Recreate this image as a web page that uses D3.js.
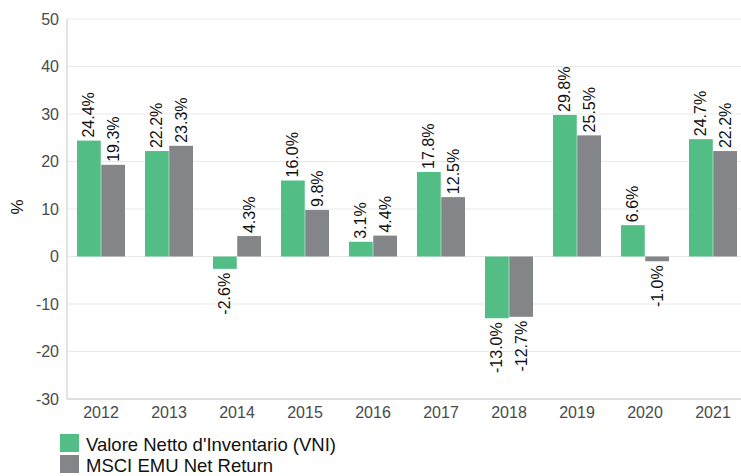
<!DOCTYPE html>
<html>
<head>
<meta charset="utf-8">
<script src="https://cdn.jsdelivr.net/npm/d3@7"></script>
<style>
  body { margin: 0; background: #fff; }
  svg { font-family: "Liberation Sans", Arial, sans-serif; display: block; }
</style>
</head>
<body>
<svg id="chart" width="741" height="476"></svg>
<script>
// data
const years = ["2012", "2013", "2014", "2015", "2016", "2017", "2018", "2019", "2020", "2021"];
const fund = [24.4, 22.2, -2.6, 16.0, 3.1, 17.8, -13.0, 29.8, 6.6, 24.7];
const bench = [19.3, 23.3, 4.3, 9.8, 4.4, 12.5, -12.7, 25.5, -1.0, 22.2];
const seriesNames = ["Valore Netto d'Inventario (VNI)", "MSCI EMU Net Return"];
const colors = ["#52be85", "#848589"];
const yTicks = [-30, -20, -10, 0, 10, 20, 30, 40, 50];

const svg = d3.select("#chart");
const plotL = 67, plotR = 747, plotT = 19, plotB = 399;

const y = d3.scaleLinear().domain([-30, 50]).range([plotB, plotT]);
const x = d3.scaleBand().domain(years).range([plotL, plotR]);
const sub = d3.scaleBand().domain([0, 1]).range([10, x.bandwidth() - 10]).paddingInner(0.02);

// gridlines
svg.append("g")
  .selectAll("line")
  .data(yTicks)
  .enter().append("line")
  .attr("x1", plotL).attr("x2", 741)
  .attr("y1", d => y(d)).attr("y2", d => y(d))
  .attr("stroke", "#e9e9e9");

// y axis labels
svg.append("g")
  .selectAll("text")
  .data(yTicks)
  .enter().append("text")
  .attr("x", 59)
  .attr("y", d => y(d))
  .attr("dy", "0.35em")
  .attr("text-anchor", "end")
  .attr("font-size", 16)
  .attr("fill", "#4a4a4a")
  .text(d => d);

svg.append("text")
  .attr("transform", "translate(17,207) rotate(-90)")
  .attr("text-anchor", "middle")
  .attr("dy", "0.35em")
  .attr("font-size", 17)
  .attr("fill", "#111")
  .text("%");

// bars
const rows = years.map((yr, i) => [fund[i], bench[i]]);
const group = svg.selectAll(".yr")
  .data(rows)
  .enter().append("g")
  .attr("class", "yr")
  .attr("transform", (d, i) => `translate(${x(years[i])},0)`);

group.selectAll("rect")
  .data(d => d)
  .enter().append("rect")
  .attr("x", (d, j) => sub(j))
  .attr("width", sub.bandwidth())
  .attr("y", d => y(Math.max(0, d)))
  .attr("height", d => Math.abs(y(d) - y(0)))
  .attr("fill", (d, j) => colors[j]);

// value labels, rotated
group.selectAll("text")
  .data(d => d)
  .enter().append("text")
  .attr("transform", (d, j) => {
    const cx = sub(j) + sub.bandwidth() / 2;
    const py = d >= 0 ? y(d) - 3 : y(d) + 4;
    return `translate(${cx},${py}) rotate(-90)`;
  })
  .attr("text-anchor", d => d >= 0 ? "start" : "end")
  .attr("dy", "0.35em")
  .attr("font-size", 16)
  .attr("fill", "#111")
  .text(d => d.toFixed(1) + "%");

// axis lines
svg.append("line")
  .attr("x1", plotL).attr("x2", plotL)
  .attr("y1", plotT).attr("y2", plotB)
  .attr("stroke", "#c8c8c8");
svg.append("line")
  .attr("x1", plotL).attr("x2", 741)
  .attr("y1", plotB).attr("y2", plotB)
  .attr("stroke", "#c8c8c8");

// x labels
svg.append("g")
  .selectAll("text")
  .data(years)
  .enter().append("text")
  .attr("x", d => x(d) + x.bandwidth() / 2)
  .attr("y", 412)
  .attr("dy", "0.35em")
  .attr("text-anchor", "middle")
  .attr("font-size", 16)
  .attr("fill", "#4a4a4a")
  .text(d => d);

// legend
const leg = svg.selectAll(".leg")
  .data(seriesNames)
  .enter().append("g")
  .attr("class", "leg")
  .attr("transform", (d, i) => `translate(60,${434 + i * 21})`);
leg.append("rect")
  .attr("width", 19).attr("height", 18)
  .attr("fill", (d, i) => colors[i]);
leg.append("text")
  .attr("x", 26).attr("y", 17)
  .attr("font-size", 18.5)
  .attr("fill", "#111")
  .text(d => d);
</script>
</body>
</html>
